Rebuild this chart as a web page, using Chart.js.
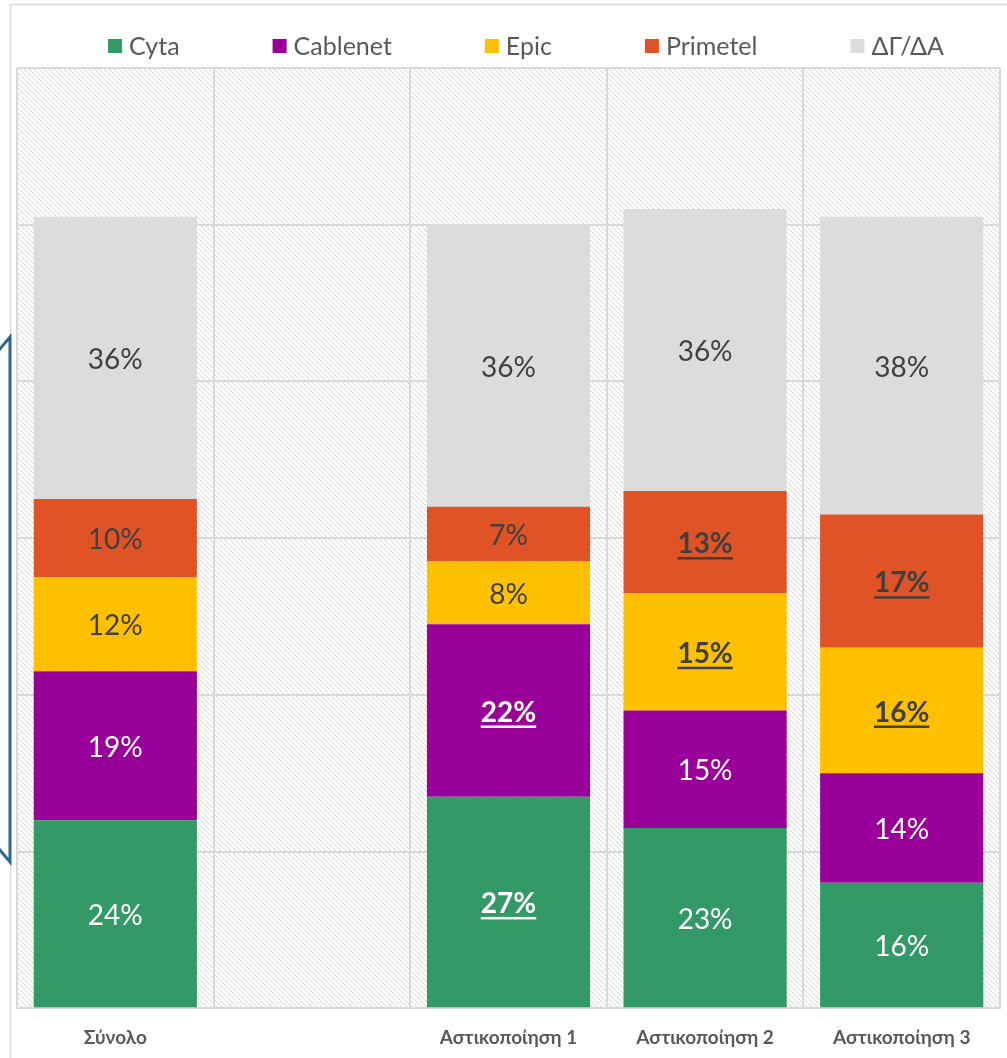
<!DOCTYPE html>
<html>
<head>
<meta charset="utf-8">
<script src="https://cdn.jsdelivr.net/npm/chart.js@4.4.1/dist/chart.umd.min.js"></script>
<style>
  html, body { margin: 0; padding: 0; background: #ffffff; }
  #wrap { width: 1007px; height: 1058px; position: relative; }
</style>
</head>
<body>
<div id="wrap"><canvas id="grafico" width="1007" height="1058"></canvas></div>
<script>
// Dados do gráfico
const categorias = ['Σύνολο', '', 'Αστικοποίηση 1', 'Αστικοποίηση 2', 'Αστικοποίηση 3'];
const series = ['Cyta', 'Cablenet', 'Epic', 'Primetel', 'ΔΓ/ΔΑ'];
const cyta     = [24, null, 27, 23, 16];
const cablenet = [19, null, 22, 15, 14];
const epic     = [12, null, 8, 15, 16];
const primetel = [10, null, 7, 13, 17];
const dgda     = [36, null, 36, 36, 38];
// rótulos em negrito + sublinhado
const destaqueCyta     = [false, false, true, false, false];
const destaqueCablenet = [false, false, true, false, false];
const destaqueEpic     = [false, false, false, true, true];
const destaquePrimetel = [false, false, false, true, true];
const destaqueDgda     = [false, false, false, false, false];
const yMax = 120;
const yPasso = 20;

const cores = ['#339966', '#990099', '#FFC000', '#E05326', '#DCDCDC'];
const corTexto = ['#ffffff', '#ffffff', '#404040', '#404040', '#404040'];
const FONTE = "Lato, 'Noto Sans', sans-serif";

const valores = [cyta, cablenet, epic, primetel, dgda];
const destaques = [destaqueCyta, destaqueCablenet, destaqueEpic, destaquePrimetel, destaqueDgda];

// padrão hachurado do fundo
function criarHachura() {
    const c = document.createElement('canvas');
    c.width = 5; c.height = 5;
    const g = c.getContext('2d');
    g.fillStyle = '#ffffff';
    g.fillRect(0, 0, 5, 5);
    g.fillStyle = '#d6d6d6';
    for (let i = 0; i < 5; i++) g.fillRect(i, i, 1, 1);
    return c;
}

const fundoPlugin = {
    id: 'fundo',
    beforeDraw(chart) {
        const ctx = chart.ctx;
        const a = chart.chartArea;
        ctx.save();
        ctx.fillStyle = ctx.createPattern(criarHachura(), 'repeat');
        ctx.fillRect(a.left, a.top, a.right - a.left, a.bottom - a.top);
        // borda externa
        ctx.strokeStyle = '#d9d9d9';
        ctx.lineWidth = 1.5;
        ctx.strokeRect(10.5, 4.5, 1100, 1100);
        ctx.restore();
    }
};

const rotulosPlugin = {
    id: 'rotulos',
    afterDatasetsDraw(chart) {
        const ctx = chart.ctx;
        ctx.save();
        ctx.textAlign = 'center';
        ctx.textBaseline = 'middle';
        chart.data.datasets.forEach((ds, di) => {
            const meta = chart.getDatasetMeta(di);
            meta.data.forEach((bar, i) => {
                const v = ds.data[i];
                if (v === null || v === undefined) return;
                const txt = v + '%';
                const negrito = destaques[di][i];
                const y = (bar.y + bar.base) / 2 + 2;
                ctx.font = (negrito ? 'bold ' : '') + '28px ' + FONTE;
                ctx.fillStyle = corTexto[di];
                ctx.fillText(txt, bar.x, y);
                if (negrito) {
                    const w = ctx.measureText(txt).width;
                    ctx.fillRect(bar.x - w / 2, y + 13, w, 2.5);
                }
            });
        });
        ctx.restore();
    }
};

const legendaPlugin = {
    id: 'legenda',
    afterDraw(chart) {
        const ctx = chart.ctx;
        const caixa = 14, gapTexto = 7, gapItem = 93, centro = 526, yMeio = 46;
        ctx.save();
        ctx.font = '25px ' + FONTE;
        ctx.textBaseline = 'middle';
        ctx.textAlign = 'left';
        const ds = chart.data.datasets;
        const larguras = ds.map(d => caixa + gapTexto + ctx.measureText(d.label).width);
        const total = larguras.reduce((s, w) => s + w, 0) + gapItem * (ds.length - 1);
        let x = centro - total / 2;
        ds.forEach((d, i) => {
            ctx.fillStyle = d.backgroundColor;
            ctx.fillRect(x, yMeio - caixa / 2, caixa, caixa);
            ctx.fillStyle = '#595959';
            ctx.fillText(d.label, x + caixa + gapTexto, yMeio + 1);
            x += larguras[i] + gapItem;
        });
        // colchete à esquerda
        ctx.strokeStyle = '#2e6a8c';
        ctx.lineWidth = 3;
        ctx.lineJoin = 'miter';
        ctx.beginPath();
        ctx.moveTo(-1, 350);
        ctx.lineTo(10, 337);
        ctx.lineTo(10, 862);
        ctx.lineTo(-1, 849);
        ctx.stroke();
        ctx.restore();
    }
};

new Chart(document.getElementById('grafico').getContext('2d'), {
    type: 'bar',
    data: {
        labels: categorias,
        datasets: series.map((nome, i) => ({
            label: nome,
            data: valores[i],
            backgroundColor: cores[i],
            borderWidth: 0,
            categoryPercentage: 1.0,
            barPercentage: 0.83
        }))
    },
    options: {
        responsive: false,
        animation: false,
        layout: {
            padding: { left: 17, right: 7, top: 68, bottom: -9 }
        },
        plugins: {
            legend: { display: false },
            tooltip: { enabled: false }
        },
        scales: {
            x: {
                stacked: true,
                grid: { color: '#d9d9d9', lineWidth: 2, drawTicks: false, offset: true },
                border: { color: '#d9d9d9', width: 2 },
                ticks: {
                    color: '#595959',
                    padding: 18,
                    font: { family: FONTE, size: 19, weight: 'bold' }
                }
            },
            y: {
                stacked: true,
                min: 0,
                max: yMax,
                grid: { color: '#d9d9d9', lineWidth: 2, drawTicks: false },
                border: { display: false },
                ticks: { display: false, stepSize: yPasso }
            }
        }
    },
    plugins: [fundoPlugin, rotulosPlugin, legendaPlugin]
});
</script>
</body>
</html>
